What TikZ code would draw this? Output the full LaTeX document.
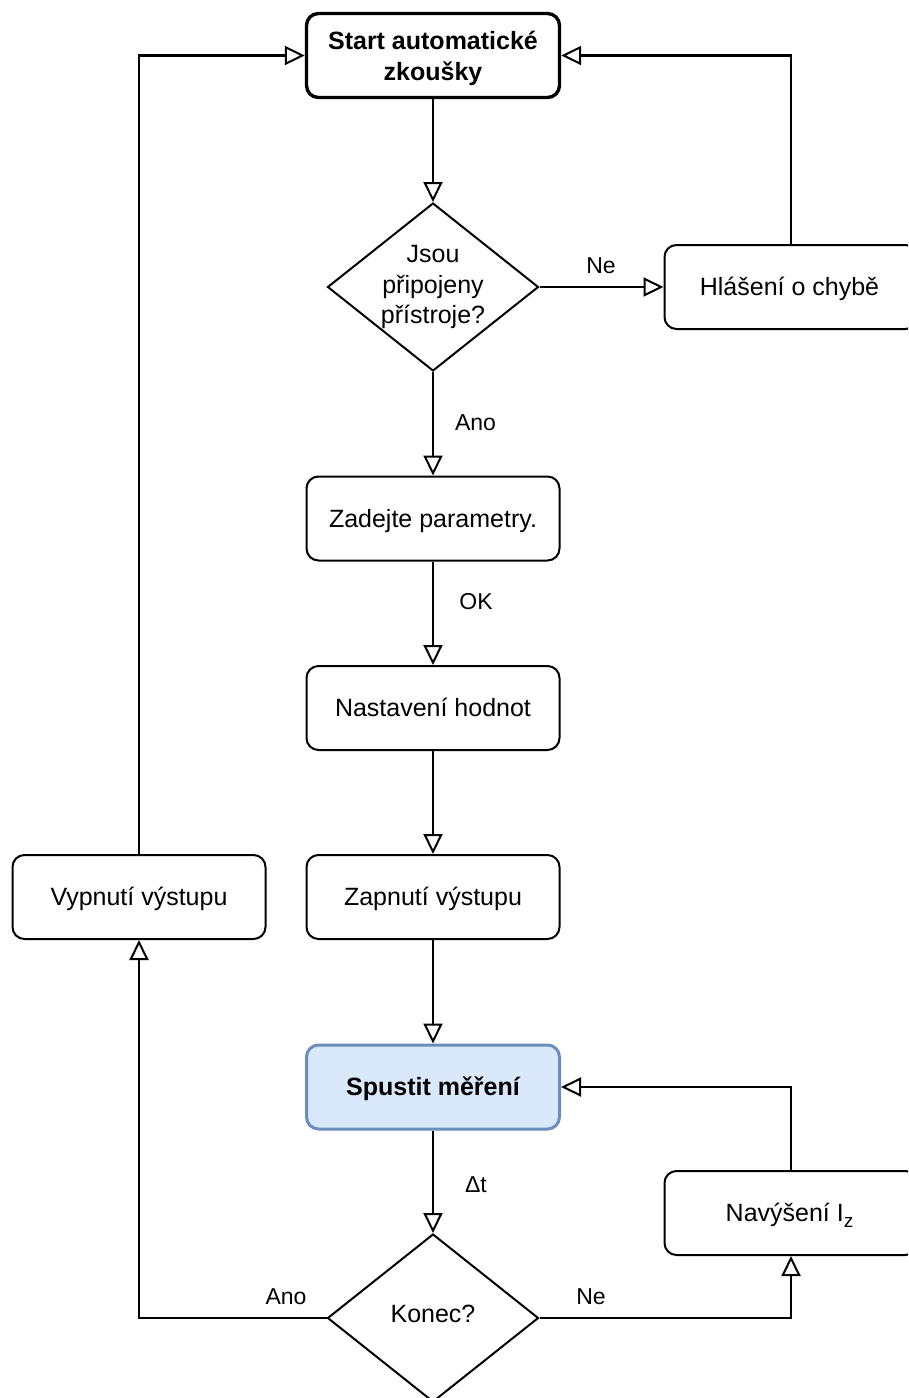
\documentclass[tikz,border=0pt]{standalone}
\usepackage{fontspec}
\setmainfont{Liberation Sans}
\usetikzlibrary{arrows.meta,shapes.geometric,calc}
\begin{document}
\begin{tikzpicture}[x=1pt,y=-1pt,
  box/.style={draw, rounded corners=12pt, minimum width=253pt, minimum height=84pt,
    line width=2pt, font=\fontsize{25}{30.5}\selectfont, align=center, inner sep=0pt},
  onel/.style={text height=22pt, text depth=5pt},
  dec/.style={draw, diamond, aspect=1.256, minimum width=211pt, minimum height=168pt,
    inner sep=0pt, line width=2pt},
  dectext/.style={font=\fontsize{25}{30.5}\selectfont, align=center},
  flow/.style={line width=2.1pt, -{Triangle[open,length=20pt,width=19pt,line width=2pt]}},
  lbl/.style={font=\fontsize{23}{28}\selectfont}]
\useasboundingbox (0,0) rectangle (908,1398);
\clip (0,0) rectangle (908,1398);
\fill[white] (0,0) rectangle (908,1398);

\node[box, line width=3.4pt, font=\fontsize{25}{31}\selectfont\bfseries] (start) at (433,55.5) {\rule{0pt}{24pt}Start automatické\\zkoušky};
\node[dec, label={[dectext]center:Jsou\\připojeny\\přístroje?}] (d1) at (433,287) {};
\node[box, onel] (hl) at (791,287) {Hlášení o chybě\hspace*{3pt}};
\node[box, onel] (zad) at (433,518.5) {Zadejte parametry.};
\node[box, onel] (nas) at (433,708) {Nastavení hodnot};
\node[box, onel] (zap) at (433,897) {Zapnutí výstupu};
\node[box, onel] (vyp) at (139,897) {Vypnutí výstupu};
\node[box, onel, line width=3pt, draw={rgb,255:red,108;green,142;blue,191}, fill={rgb,255:red,218;green,232;blue,252}, font=\fontsize{25}{30.5}\selectfont\bfseries] (sp) at (433,1087) {Spustit měření};
\node[dec, label={[dectext, yshift=4pt]center:Konec?}] (d2) at (433,1318) {};
\node[box, onel] (nav) at (791,1213) {Navýšení I\raisebox{-6pt}{\fontsize{19}{20}\selectfont z}\hspace*{3pt}};

\draw[flow] (start.south) -- (d1.north);
\draw[flow] (d1.east) -- (hl.west);
\draw[flow] (hl.north) |- (start.east);
\draw[flow] (d1.south) -- (zad.north);
\draw[flow] (zad.south) -- (nas.north);
\draw[flow] (nas.south) -- (zap.north);
\draw[flow] (zap.south) -- (sp.north);
\draw[flow] (sp.south) -- (d2.north);
\draw[flow] (d2.west) -| (vyp.south);
\draw[flow] (d2.east) -| (nav.south);
\draw[flow] (nav.north) |- (sp.east);
\draw[flow] (vyp.north) |- (start.west);

\node[lbl] (lne1) at (601,266) {Ne};
\node[lbl] (lano1) at (475.5,423) {Ano};
\node[lbl] (lok) at (476,602) {OK};
\node[lbl] (ldt) at (476,1185) {Δt};
\node[lbl] (lano2) at (286,1297) {Ano};
\node[lbl] (lne2) at (591,1297) {Ne};
\end{tikzpicture}
\end{document}
